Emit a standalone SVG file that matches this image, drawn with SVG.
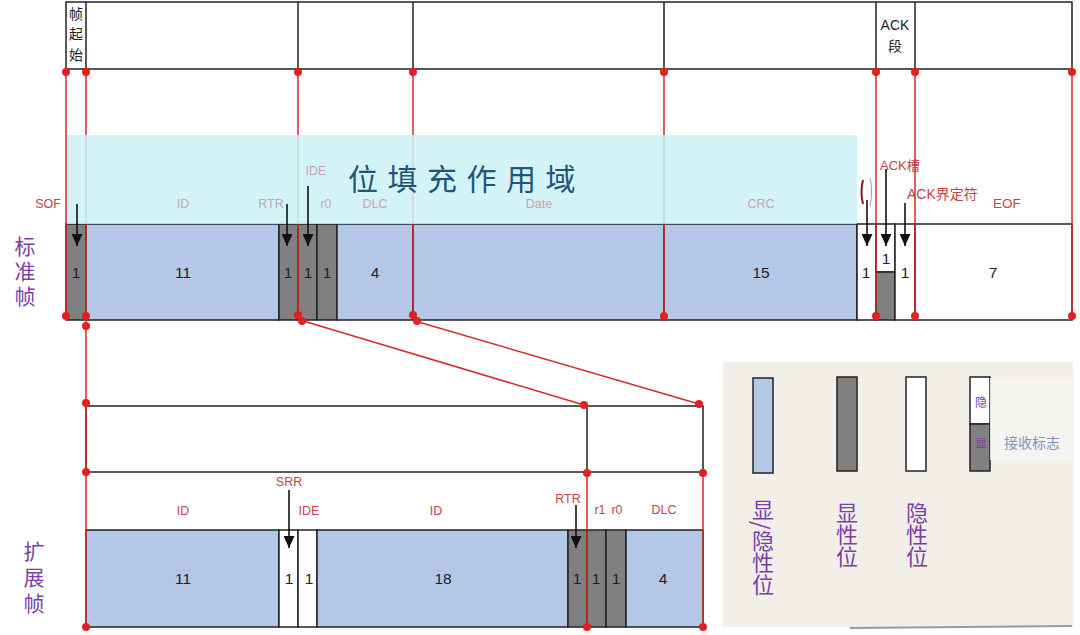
<svg xmlns="http://www.w3.org/2000/svg" width="1080" height="635" viewBox="0 0 1080 635">
<style>
.blue{fill:#b4c7e7;stroke:#222;stroke-width:1.5}
.gray{fill:#808080;stroke:#222;stroke-width:1.5}
.white{fill:#fff;stroke:#222;stroke-width:1.5}
.box{fill:none;stroke:#222;stroke-width:1.5}
.red{stroke:#d42a2a;stroke-width:1.5;fill:none}
.dot{fill:#e41f1f}
.num{font-family:"Liberation Sans","Noto Sans",sans-serif;font-size:15.5px;fill:#1c1c2a;text-anchor:middle}
.lab{font-family:"Liberation Sans","Noto Sans",sans-serif;font-size:12.5px;fill:#c8404a;text-anchor:middle}
.fad{font-family:"Liberation Sans","Noto Sans",sans-serif;font-size:12.5px;fill:#c9a2ac;text-anchor:middle}
.cjk{font-family:"Noto Sans CJK SC",sans-serif;text-anchor:middle}
.side{font-family:"Noto Sans CJK SC",sans-serif;font-size:21px;fill:#7a3fa6;writing-mode:vertical-rl;text-anchor:start}
.leg{font-family:"Noto Sans CJK SC",sans-serif;font-size:22px;fill:#7a3fa6;writing-mode:vertical-rl;text-anchor:start}
.arr{stroke:#111;stroke-width:1.6;marker-end:url(#ah)}
</style>
<defs>
<marker id="ah" markerWidth="12" markerHeight="11" refX="12" refY="5.5" orient="auto" markerUnits="userSpaceOnUse" viewBox="0 0 12 11">
<path d="M0,0 L12,5.5 L0,11 Z" fill="#111"/>
</marker>
</defs>
<rect width="1080" height="635" fill="#fff"/>

<g id="top-band">
<rect class="box" x="66" y="2" width="1006" height="67"/>
<line class="box" x1="86" y1="2" x2="86" y2="69"/>
<line class="box" x1="298" y1="2" x2="298" y2="69"/>
<line class="box" x1="413" y1="2" x2="413" y2="69"/>
<line class="box" x1="664" y1="2" x2="664" y2="69"/>
<line class="box" x1="876" y1="2" x2="876" y2="69"/>
<line class="box" x1="915" y1="2" x2="915" y2="69"/>
<text class="cjk" x="76" y="19" font-size="14" fill="#222">帧</text>
<text class="cjk" x="76" y="39" font-size="14" fill="#222">起</text>
<text class="cjk" x="76" y="60" font-size="14" fill="#222">始</text>
<text class="num" x="895" y="30" style="font-size:14px">ACK</text>
<text class="cjk" x="895" y="51" font-size="14" fill="#222">段</text>
</g>

<g id="standard-frame">
<rect class="gray" x="66" y="224" width="20" height="96"/>
<rect class="blue" x="86" y="224" width="193" height="96"/>
<rect class="gray" x="279" y="224" width="19" height="96"/>
<rect class="gray" x="298" y="224" width="19" height="96"/>
<rect class="gray" x="317" y="224" width="20" height="96"/>
<rect class="blue" x="337" y="224" width="76" height="96"/>
<rect class="blue" x="413" y="224" width="251" height="96"/>
<rect class="blue" x="664" y="224" width="193" height="96"/>
<rect class="white" x="857" y="224" width="19" height="96"/>
<rect class="white" x="876" y="224" width="19" height="48"/>
<rect class="gray" x="876" y="272" width="19" height="48"/>
<rect class="white" x="895" y="224" width="20" height="96"/>
<rect class="white" x="915" y="224" width="157" height="96"/>
<text class="num" x="76" y="278">1</text>
<text class="num" x="183" y="278">11</text>
<text class="num" x="288" y="278">1</text>
<text class="num" x="308" y="278">1</text>
<text class="num" x="327" y="278">1</text>
<text class="num" x="375" y="278">4</text>
<text class="num" x="761" y="278">15</text>
<text class="num" x="866" y="278">1</text>
<text class="num" x="886" y="264">1</text>
<text class="num" x="905" y="278">1</text>
<text class="num" x="993" y="278">7</text>
<text class="side" x="25" y="236" style="letter-spacing:4px">标准帧</text>
</g>

<g id="extended-frame">
<rect class="box" x="86" y="406" width="617" height="66"/>
<line class="box" x1="587" y1="406" x2="587" y2="472"/>
<rect class="blue" x="86" y="530" width="193" height="97"/>
<rect class="white" x="279" y="530" width="19" height="97"/>
<rect class="white" x="298" y="530" width="19" height="97"/>
<rect class="blue" x="317" y="530" width="251" height="97"/>
<rect class="gray" x="568" y="530" width="19" height="97"/>
<rect class="gray" x="587" y="530" width="19" height="97"/>
<rect class="gray" x="606" y="530" width="20" height="97"/>
<rect class="blue" x="626" y="530" width="77" height="97"/>
<text class="num" x="183" y="584">11</text>
<text class="num" x="289" y="584">1</text>
<text class="num" x="309" y="584">1</text>
<text class="num" x="443" y="584">18</text>
<text class="num" x="577" y="584">1</text>
<text class="num" x="596" y="584">1</text>
<text class="num" x="616" y="584">1</text>
<text class="num" x="663" y="584">4</text>
<text class="lab" x="183" y="515">ID</text>
<text class="lab" x="289" y="486">SRR</text>
<text class="lab" x="309" y="515">IDE</text>
<text class="lab" x="436" y="515">ID</text>
<text class="lab" x="568" y="503">RTR</text>
<text class="lab" x="600" y="514">r1</text>
<text class="lab" x="617" y="514">r0</text>
<text class="lab" x="664" y="514">DLC</text>
<text class="side" x="34" y="541" style="letter-spacing:5px">扩展帧</text>
</g>

<g id="connectors">
<line class="red" x1="66" y1="72" x2="66" y2="316"/>
<line class="red" x1="86" y1="72" x2="86" y2="627"/>
<line class="red" x1="298" y1="72" x2="298" y2="316"/>
<line class="red" x1="413" y1="72" x2="413" y2="316"/>
<line class="red" x1="664" y1="72" x2="664" y2="316"/>
<line class="red" x1="876" y1="72" x2="876" y2="316"/>
<line class="red" x1="915" y1="72" x2="915" y2="316"/>
<line class="red" x1="1072" y1="72" x2="1072" y2="316"/>
<line class="red" x1="300" y1="320" x2="584" y2="405"/>
<line class="red" x1="415" y1="321" x2="699" y2="404"/>
<line class="red" x1="587" y1="472" x2="587" y2="627"/>
<line class="red" x1="703" y1="472" x2="703" y2="627"/>
<g class="dot">
<circle cx="66" cy="72" r="4"/><circle cx="86" cy="72" r="4"/><circle cx="298" cy="72" r="4"/><circle cx="413" cy="72" r="4"/>
<circle cx="664" cy="72" r="4"/><circle cx="876" cy="72" r="4"/><circle cx="915" cy="72" r="4"/><circle cx="1072" cy="72" r="4"/>
<circle cx="66" cy="316" r="4"/><circle cx="86" cy="316" r="4"/><circle cx="86" cy="326" r="4"/><circle cx="298" cy="315" r="4"/><circle cx="302" cy="321" r="4"/>
<circle cx="413" cy="315" r="4"/><circle cx="417" cy="321" r="4"/><circle cx="664" cy="316" r="4"/><circle cx="876" cy="316" r="4"/><circle cx="915" cy="316" r="4"/><circle cx="1072" cy="316" r="4"/>
<circle cx="86" cy="403" r="4"/><circle cx="584" cy="405" r="4"/><circle cx="699" cy="404" r="4"/>
<circle cx="86" cy="472" r="4"/><circle cx="587" cy="473" r="4"/><circle cx="703" cy="473" r="4"/>
<circle cx="86" cy="627" r="4"/><circle cx="587" cy="627" r="4"/><circle cx="703" cy="627" r="4"/>
</g>
</g>

<g id="stuffing-zone">
<rect x="67" y="135" width="790" height="89" fill="#cdf1f6" fill-opacity="0.85"/>
<text x="348" y="190" style="font-family:'Noto Sans CJK SC',sans-serif;font-size:30px;fill:#22557a;text-anchor:start;letter-spacing:9.5px">位填充作用域</text>
<text class="lab" x="48" y="208">SOF</text>
<text class="fad" x="183" y="208">ID</text>
<text class="fad" x="271" y="208">RTR</text>
<text class="fad" x="316" y="175">IDE</text>
<text class="fad" x="326" y="208">r0</text>
<text class="fad" x="375" y="208">DLC</text>
<text class="fad" x="539" y="208">Date</text>
<text class="fad" x="761" y="208">CRC</text>
</g>

<g id="ack-labels">
<path d="M863,180 C861,188 861,196 863,204" stroke="#8a1a1a" stroke-width="2" fill="none"/>
<path d="M870,178 C872,186 872,196 870,206" stroke="#999" stroke-width="1" fill="none"/>
<text x="880" y="170" style="font-family:'Liberation Sans','Noto Sans CJK SC',sans-serif;font-size:13px;fill:#c8404a;text-anchor:start">ACK槽</text>
<text x="907" y="199" style="font-family:'Liberation Sans','Noto Sans CJK SC',sans-serif;font-size:14px;fill:#c8404a;text-anchor:start">ACK界定符</text>
<text class="lab" x="1007" y="208" style="font-size:13.5px">EOF</text>
</g>

<g id="arrows">
<line class="arr" x1="77" y1="204" x2="77" y2="246"/>
<line class="arr" x1="287" y1="204" x2="287" y2="246"/>
<line class="arr" x1="308" y1="186" x2="308" y2="246"/>
<line class="arr" x1="867" y1="200" x2="867" y2="246"/>
<line class="arr" x1="886" y1="169" x2="886" y2="246"/>
<line class="arr" x1="905" y1="203" x2="905" y2="246"/>
<line class="arr" x1="289" y1="490" x2="289" y2="548"/>
<line class="arr" x1="576" y1="505" x2="576" y2="548"/>
</g>

<g id="legend">
<rect x="723" y="362" width="350" height="265" fill="#f1efe7"/>
<line x1="850" y1="628" x2="1072" y2="626" stroke="#9a9a9a" stroke-width="2"/>
<rect class="blue" x="753" y="378" width="20" height="95" stroke-width="2"/>
<rect class="gray" x="837" y="377" width="20" height="94" stroke-width="2"/>
<rect class="white" x="906" y="377" width="20" height="94" stroke-width="2"/>
<rect class="white" x="970" y="377" width="20" height="47" stroke-width="2"/>
<rect class="gray" x="970" y="424" width="20" height="47" stroke-width="2"/>
<text class="cjk" x="981" y="407" font-size="12" fill="#7a3fa6">隐</text>
<text class="cjk" x="981" y="448" font-size="12" fill="#7a3fa6">显</text>
<rect x="990" y="378" width="82" height="82" fill="#f6f5f1" fill-opacity="0.85"/>
<text class="cjk" x="1032" y="448" font-size="14" fill="#7b95c6">接收标志</text>
<text class="leg" x="763" y="499">显/隐性位</text>
<text class="leg" x="847" y="502">显性位</text>
<text class="leg" x="917" y="502">隐性位</text>
</g>
</svg>
